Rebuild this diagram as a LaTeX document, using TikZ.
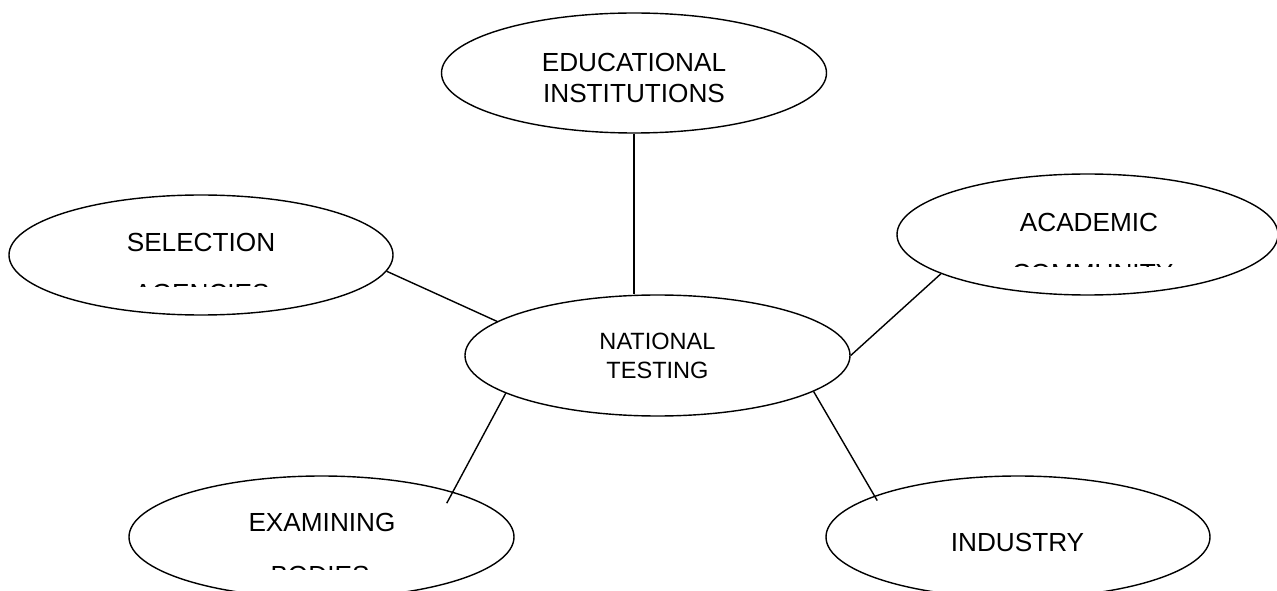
\documentclass[tikz,border=0pt]{standalone}
\usepackage{fontspec}
\setmainfont{Liberation Sans}
\usetikzlibrary{shapes.geometric, positioning}

\begin{document}
\begin{tikzpicture}[
    bubble/.style={ellipse, draw, line width=0.8pt, inner sep=0pt, minimum width=7.7cm, minimum height=2.42cm, align=center, font=\fontsize{14.9}{17}\selectfont},
    hub/.style={bubble, font=\fontsize{13.4}{16.5}\selectfont},
    txt/.style={inner sep=0pt, align=center, font=\fontsize{14.9}{17.2}\selectfont},
    link/.style={line width=0.8pt}
]
\useasboundingbox (0,0) rectangle (25.54,11.8);

% Centre
\node[hub] (nat) at (13.15,4.69) {NATIONAL\\TESTING};

% Surrounding bubbles
\node[bubble, minimum height=2.4cm] (edu) at (12.68,10.34) {};
\node[bubble, minimum width=7.68cm, minimum height=2.4cm] (sel) at (4.02,6.70) {};
\node[bubble, minimum width=7.62cm] (acad) at (21.75,7.11) {};
\node[bubble, minimum height=2.44cm] (exam) at (6.43,1.06) {};
\node[bubble, minimum width=7.68cm, minimum height=2.44cm] (ind) at (20.36,1.06) {};

% Labels
\node[txt] (edutext) at (12.68,10.24) {EDUCATIONAL\\INSTITUTIONS};
\node[txt] (seltext) at (4.02,6.96) {SELECTION};
\node[txt] (acadtext) at (21.78,7.36) {ACADEMIC};
\node[txt] (examtext) at (6.44,1.36) {EXAMINING};
\node[txt] (indtext) at (20.35,0.96) {INDUSTRY};

% Second lines, cut off at the text box
\begin{scope}
  \clip (1,6.06) rectangle (7,6.5);
  \node[txt] (agencies) at (4.04,5.94) {AGENCIES};
\end{scope}
\begin{scope}
  \clip (19,6.46) rectangle (25,6.9);
  \node[txt] (community) at (21.85,6.34) {COMMUNITY};
\end{scope}
\begin{scope}
  \clip (3,0.42) rectangle (10,0.9);
  \node[txt] (bodies) at (6.40,0.30) {BODIES};
\end{scope}

% Links
\draw[link] (edu.south) -- (edu.south |- nat.north);
\draw[link] (sel.-5.9) -- (nat.168.7);
\draw[link] (acad.195.9) -- (nat.0);
\draw[link, shorten >=-0.26cm] (nat.194.7) -- (exam.19.9);
\draw[link, shorten >=-0.11cm] (nat.-13.4) -- (ind.164.8);

\end{tikzpicture}
\end{document}
